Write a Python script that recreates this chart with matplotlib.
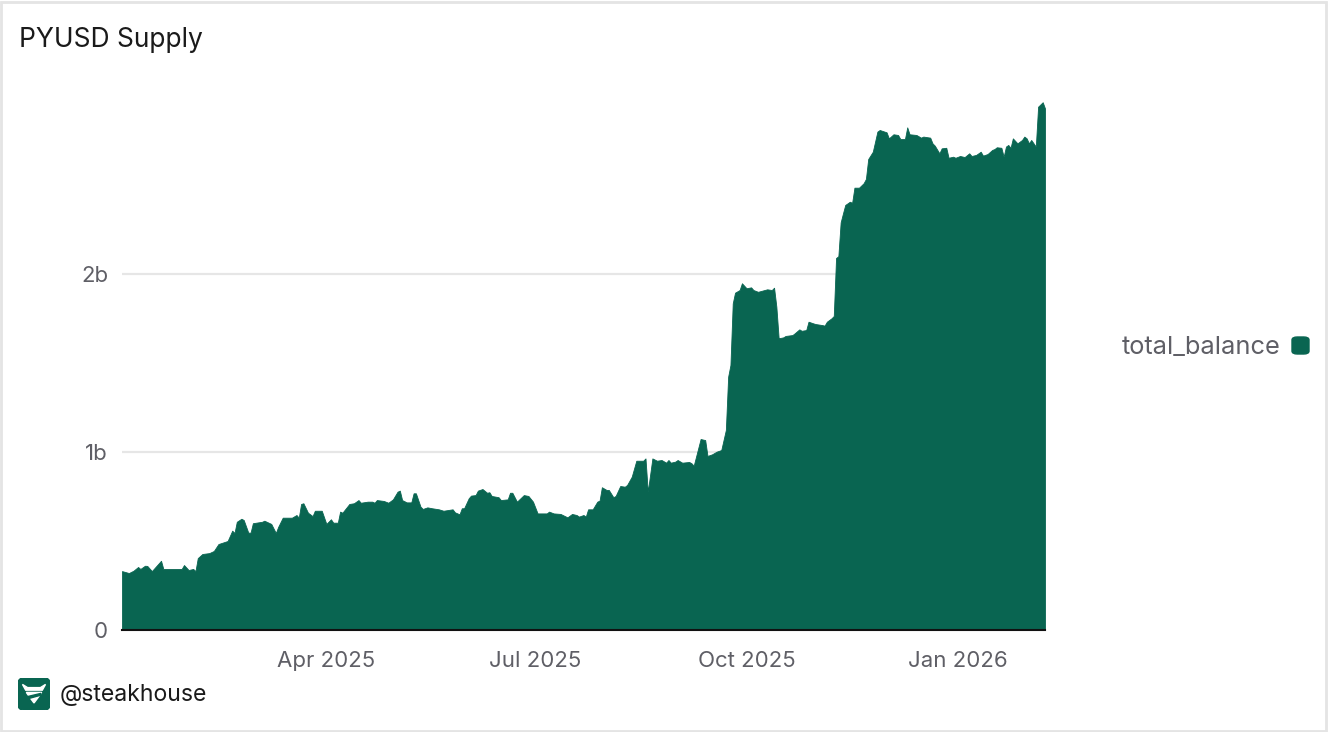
import numpy as np
import pandas as pd
import matplotlib
matplotlib.use("Agg")
import matplotlib.pyplot as plt
from matplotlib.patches import FancyBboxPatch, Polygon, Rectangle

plt.rcParams['font.family'] = ['Inter', 'DejaVu Sans']

# days since 2025-01-02 and PYUSD supply (billions)
day_offsets = [0, 3, 5, 7, 8, 10, 11, 13, 17, 18, 26, 27, 29, 31, 32, 33, 35, 38, 40, 42,
               46, 48, 49, 50, 52, 53, 55, 56, 57, 61, 62, 65, 67, 68, 70, 74, 76, 77, 78, 79,
               81, 83, 84, 87, 89, 91, 92, 94, 95, 96, 99, 101, 103, 104, 107, 109, 110, 111, 114, 116,
               118, 120, 121, 122, 124, 126, 127, 128, 130, 131, 133, 135, 138, 140, 144, 145, 147, 148, 149, 151,
               152, 154, 155, 157, 159, 160, 161, 164, 165, 168, 169, 170, 172, 175, 177, 179, 181, 185, 186, 188,
               191, 194, 196, 198, 199, 201, 202, 203, 205, 207, 208, 209, 211, 212, 214, 215, 217, 219, 220, 222,
               224, 227, 228, 229, 231, 233, 235, 237, 238, 239, 241, 242, 244, 247, 248, 249, 252, 254, 255, 257,
               259, 261, 263, 264, 265, 266, 267, 269, 270, 272, 274, 275, 277, 279, 281, 283, 284, 285, 286, 288,
               289, 292, 293, 295, 296, 298, 299, 301, 302, 305, 306, 307, 309, 310, 311, 312, 313, 314, 315, 317,
               318, 319, 321, 323, 324, 325, 327, 329, 330, 333, 334, 336, 338, 339, 341, 342, 343, 346, 348, 349,
               352, 353, 354, 356, 357, 359, 360, 362, 363, 365, 367, 369, 370, 372, 374, 375, 377, 379, 380, 381,
               383, 384, 385, 386, 387, 388, 390, 392, 393, 394, 395, 396, 398, 399, 401, 402]
total_balance = [0.331, 0.320, 0.333, 0.354, 0.343, 0.361, 0.360, 0.331, 0.389, 0.343, 0.343, 0.365, 0.337, 0.343, 0.331, 0.404, 0.427, 0.432, 0.444, 0.483,
                 0.500, 0.558, 0.545, 0.608, 0.625, 0.618, 0.547, 0.547, 0.600, 0.608, 0.614, 0.596, 0.545, 0.579, 0.631, 0.631, 0.646, 0.631, 0.708, 0.712,
                 0.659, 0.640, 0.670, 0.670, 0.596, 0.622, 0.603, 0.603, 0.665, 0.659, 0.708, 0.712, 0.730, 0.715, 0.721, 0.721, 0.715, 0.730, 0.725, 0.715,
                 0.734, 0.777, 0.783, 0.730, 0.717, 0.717, 0.768, 0.768, 0.693, 0.680, 0.689, 0.684, 0.678, 0.670, 0.678, 0.661, 0.650, 0.684, 0.684, 0.740,
                 0.755, 0.758, 0.783, 0.792, 0.771, 0.774, 0.753, 0.746, 0.730, 0.734, 0.771, 0.771, 0.721, 0.758, 0.753, 0.721, 0.655, 0.655, 0.665, 0.655,
                 0.652, 0.633, 0.652, 0.646, 0.637, 0.646, 0.637, 0.678, 0.678, 0.721, 0.727, 0.802, 0.787, 0.787, 0.746, 0.753, 0.809, 0.805, 0.815, 0.861,
                 0.951, 0.951, 0.964, 0.777, 0.964, 0.951, 0.955, 0.940, 0.955, 0.940, 0.946, 0.955, 0.940, 0.944, 0.937, 0.923, 1.073, 1.067, 0.978, 0.987,
                 1.002, 1.011, 1.124, 1.423, 1.489, 1.835, 1.895, 1.910, 1.948, 1.920, 1.925, 1.910, 1.900, 1.907, 1.914, 1.910, 1.923, 1.816, 1.639, 1.644,
                 1.652, 1.657, 1.667, 1.689, 1.681, 1.685, 1.732, 1.723, 1.719, 1.713, 1.710, 1.732, 1.751, 1.764, 2.090, 2.100, 2.290, 2.340, 2.388, 2.406,
                 2.400, 2.485, 2.485, 2.510, 2.534, 2.646, 2.687, 2.800, 2.809, 2.796, 2.762, 2.785, 2.781, 2.758, 2.758, 2.824, 2.785, 2.781, 2.766, 2.772,
                 2.766, 2.734, 2.721, 2.678, 2.706, 2.709, 2.653, 2.659, 2.653, 2.663, 2.657, 2.678, 2.663, 2.669, 2.687, 2.665, 2.674, 2.697, 2.702, 2.712,
                 2.709, 2.659, 2.716, 2.725, 2.709, 2.762, 2.734, 2.753, 2.772, 2.762, 2.734, 2.753, 2.716, 2.940, 2.965, 2.930]

y_ticks = [0, 1, 2]
y_labels = ['0', '1b', '2b']
x_ticks = ['2025-04-01', '2025-07-01', '2025-10-01', '2026-01-01']
x_labels = ['Apr 2025', 'Jul 2025', 'Oct 2025', 'Jan 2026']

GREEN = '#096551'
GREY_TXT = '#5f5f66'

dates = pd.Timestamp('2025-01-02') + pd.to_timedelta(day_offsets, unit='D')

W, H = 1328, 732
fig = plt.figure(figsize=(W / 100, H / 100), dpi=100)

# outer card border
fig.patches.append(Rectangle((1 / W, 1 / H), 1 - 3 / W, 1 - 3 / H, transform=fig.transFigure,
                             fill=False, edgecolor='#e4e4e4', lw=2))

ax = fig.add_axes([122 / W, (H - 630) / H, (1045 - 122) / W, (630 - 96) / H])
ax.fill_between(dates, total_balance, 0, color=GREEN, lw=0.6, edgecolor=GREEN, zorder=2)

ax.set_xlim(dates[0], dates[-1])
ax.set_ylim(0, 3.0)
ax.set_yticks(y_ticks)
ax.set_yticklabels(y_labels)
ax.set_xticks(pd.to_datetime(x_ticks))
ax.set_xticklabels(x_labels)
ax.tick_params(axis='both', length=0, labelsize=16, labelcolor=GREY_TXT)
ax.tick_params(axis='y', pad=10)
ax.tick_params(axis='x', pad=15)

ax.grid(axis='y', color='#e6e6e6', lw=1.6, zorder=0)
for s in ['top', 'right', 'left']:
    ax.spines[s].set_visible(False)
ax.spines['bottom'].set_color('#111111')
ax.spines['bottom'].set_linewidth(1.5)
ax.spines['bottom'].set_zorder(3)

fig.text(19 / W, 1 - 40 / H, 'PYUSD Supply', fontsize=19, color='#1a1a1a', va='center', ha='left')

# legend on the right
fig.text(1281 / W, 1 - 348 / H, 'total_balance', fontsize=18.3, color=GREY_TXT, va='center', ha='right')
fig.patches.append(FancyBboxPatch((1292 / W, 1 - 354 / H), 17 / W, 17 / H, transform=fig.transFigure,
                                  boxstyle='round,pad=0,rounding_size=0.004', color=GREEN))

# steakhouse logo + handle
lax = fig.add_axes([18 / W, 1 - 710 / H, 32 / W, 32 / H])
lax.set_xlim(0, 1)
lax.set_ylim(0, 1)
lax.axis('off')
lax.add_patch(FancyBboxPatch((0, 0), 1, 1, boxstyle='round,pad=0,rounding_size=0.18', color=GREEN))
lax.add_patch(Polygon([(0.14, 0.80), (0.30, 0.70), (0.70, 0.70), (0.86, 0.80), (0.76, 0.62), (0.24, 0.62)],
                      color='white'))
lax.add_patch(Polygon([(0.26, 0.55), (0.74, 0.55), (0.62, 0.38), (0.50, 0.22), (0.38, 0.38)], color='white'))
lax.add_patch(Polygon([(0.30, 0.42), (0.72, 0.52), (0.70, 0.46), (0.34, 0.36)], color=GREEN))

fig.text(60 / W, 1 - 695 / H, '@steakhouse', fontsize=16.6, color='#1a1a1a', va='center', ha='left')

fig.savefig('out.png', dpi=100)
